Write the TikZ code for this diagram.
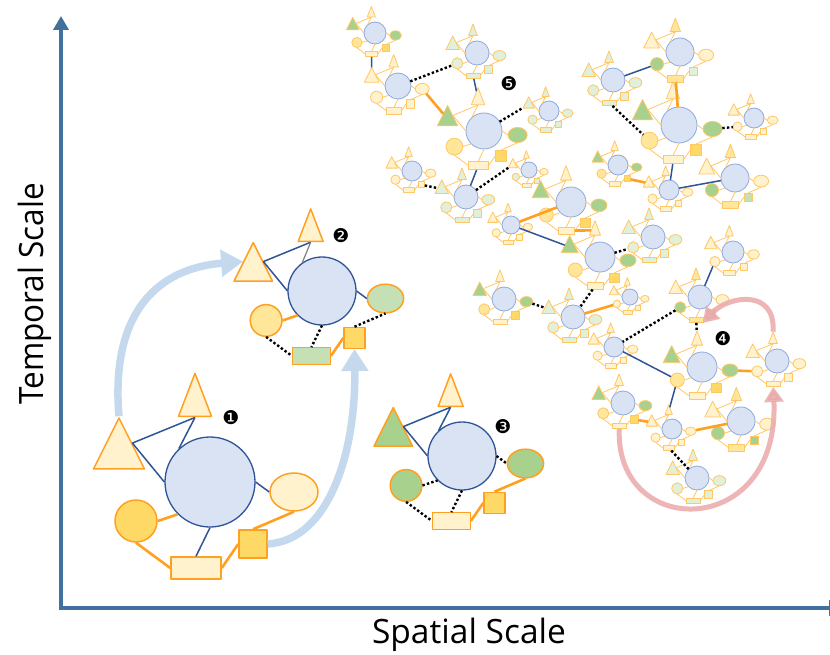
\documentclass[tikz,border=0pt]{standalone}
\usepackage{fontspec}
\setmainfont{Open Sans}
\newfontfamily\dingfont{DejaVu Sans}
\usetikzlibrary{shapes.geometric,arrows.meta}

\definecolor{cblue}{HTML}{DAE3F3}
\definecolor{dblue}{HTML}{2F5597}
\definecolor{lblue}{HTML}{8FAADC}
\definecolor{orng}{HTML}{FFA020}
\definecolor{lorng}{HTML}{FFC766}
\definecolor{cY}{HTML}{FFF2CC}
\definecolor{cG}{HTML}{FFD966}
\definecolor{cGl}{HTML}{FFE699}
\definecolor{cN}{HTML}{A9D18E}
\definecolor{cL}{HTML}{C5E0B4}
\definecolor{cLL}{HTML}{E2F0D9}
\definecolor{axblue}{HTML}{41719C}
\definecolor{arrblue}{HTML}{C5D9EE}
\definecolor{arrpink}{HTML}{EBA9A9}

\tikzset{
  cline/.style={draw=dblue}, oline/.style={draw=orng},
  big/.style={cline/.style={draw=dblue,line width=1.3pt},oline/.style={draw=orng,line width=1.5pt}},
  net/.style={cline/.style={draw=lblue,line width=0.8pt},oline/.style={draw=lorng,line width=0.8pt}},
  bigc/.style={circle,cline,fill=cblue,inner sep=0pt,minimum size=90pt},
  tri/.style={regular polygon,regular polygon sides=3,oline,inner sep=0pt},
  ocirc/.style={circle,oline,inner sep=0pt,minimum size=42pt},
  oell/.style={ellipse,oline,inner sep=0pt,minimum width=48pt,minimum height=38pt},
  orect/.style={rectangle,oline,inner sep=0pt},
  blu/.style={draw=dblue,line width=1.5pt},
  org/.style={draw=orng,line width=2.6pt},
  dotl/.style={draw=black,line width=2.4pt,dash pattern=on 2.4pt off 2.2pt,line cap=butt},
  ilink/.style={draw=lorng,line width=0.8pt},
  axis/.style={draw=axblue,line width=4pt,line cap=rect,-{Triangle[length=14pt,width=15pt]}},
  lbarr/.style={draw=arrblue,line width=7.5pt,-{Triangle[length=22pt,width=26pt]}},
  pkarr/.style={draw=arrpink,line width=5pt,-{Triangle[length=15pt,width=19pt]}},
  badge/.style={font=\dingfont\fontsize{19}{19}\selectfont,inner sep=0pt},
  axlab/.style={font=\fontsize{33.5}{34}\selectfont,inner sep=0pt,anchor=base}
}

% one motif: name, x, y (pixels, downward), radius of its circle, colours T/S/L/E/R/Q
\newcommand{\motif}[6][net]{%
  \begin{scope}[shift={(#3,-#4)},scale=#5/45,transform shape,#1]
    \motifparts{#2}#6\relax
  \end{scope}}
\def\motifparts#1#2/#3/#4/#5/#6/#7\relax{%
  \node[bigc] (#1c) at (0,0) {};
  \begin{scope}[shift={(-91,30)}]\node[tri,fill=#2,minimum size=58.9pt,yscale=1.154] (#1t) at (0,0) {};\end{scope}
  \begin{scope}[shift={(-15,80)}]\node[tri,fill=#3,minimum size=38.1pt,yscale=1.504] (#1s) at (0,0) {};\end{scope}
  \node[ocirc,fill=#4] (#1l) at (-74,-39) {};
  \node[oell,fill=#5] (#1e) at (84,-10) {};
  \node[orect,fill=#6,minimum width=50pt,minimum height=22pt] (#1r) at (-14,-86) {};
  \node[orect,fill=#7,minimum size=28pt] (#1q) at (43,-62) {};}
\newcommand{\netlinks}[1]{%
  \draw[ilink] (#1t.side 3) -- (#1s.side 2) (#1t.side 3) -- (#1c.180) (#1s.side 2) -- (#1c.133)
    (#1l.east) -- (#1c.225) (#1l.south) -- (#1r.west) (#1c.south) -- (#1r.north)
    (#1r.east) -- (#1q.west) (#1q.north) -- (#1e.south) (#1c.east) -- (#1e.west);}

\begin{document}
\begin{tikzpicture}[x=1pt,y=1pt,line join=round]
\useasboundingbox (0,0) rectangle (830,-655);
\fill[white] (0,0) rectangle (830,-655);

% axes
\coordinate (o) at (61,-608);
\coordinate (ytop) at (61,-16);
\coordinate (xend) at (843,-608);
\draw[axis] (o) -- (ytop);
\draw[axis] (o) -- (xend);
\node[axlab] (xlab) at (469,-643) {Spatial Scale};
\node[axlab,rotate=90,xscale=0.94] (ylab) at (43,-294) {Temporal Scale};

% three single motifs
\motif[big]{c1}{210}{482}{45}{cY/cY/cG/cY/cY/cG}
\draw[blu] (c1t.side 3) -- (c1s.side 2) (c1t.side 3) -- (c1c.180) (c1s.side 2) -- (c1c.133)
  (c1c.south) -- (c1r.north) (c1c.east) -- (c1e.west);
\draw[org] (c1l.east) -- (c1c.225) (c1l.south) -- (c1r.west) (c1r.east) -- (c1q.west) (c1q.north) -- (c1e.south);
\node[badge] (b1) at (231,-418) {❶};

\motif[big]{c2}{322}{291}{34}{cY/cY/cGl/cL/cL/cG}
\draw[blu] (c2t.side 3) -- (c2s.side 2) (c2t.side 3) -- (c2c.180) (c2c.east) -- (c2e.west);
\draw[gray,line width=1.2pt] (c2s.side 2) -- (c2c.125);
\draw[org] (c2l.east) -- (c2c.225) (c2r.east) -- (c2q.west);
\draw[dotl] (c2l.south) -- (c2r.west) (c2c.south) -- (c2r.north) (c2q.north) -- (c2e.south);
\node[badge] (b2) at (341,-236) {❷};

\motif[big]{c3}{462}{456}{34}{cN/cY/cN/cN/cY/cG}
\draw[blu] (c3t.side 3) -- (c3s.side 2) (c3t.side 3) -- (c3c.180) (c3s.side 2) -- (c3c.133);
\draw[org] (c3r.east) -- (c3q.west) (c3q.north) -- (c3e.south);
\draw[dotl] (c3l.east) -- (c3c.225) (c3l.south) -- (c3r.west) (c3c.south) -- (c3r.north) (c3c.east) -- (c3e.west);
\node[badge] (b3) at (503,-427) {❸};

% arrows from motif 1 to motif 2
\draw[lbarr] (c1t.corner 1) .. controls (110,-310) and (160,-268) .. (c2t.side 1);
\draw[lbarr] (c1q.east) .. controls (330,-540) and (356,-450) .. (c2q.south);

% network of motifs
\foreach \n/\x/\y/\rad/\kt/\ks/\kl/\ke/\kr/\kq in {
  A/375/33/11/cN/cY/cGl/cN/cY/cG, B/477/53/12/cLL/cLL/cLL/cLL/cLL/cLL,
  C/398/86/13/cY/cY/cY/cY/cY/cY, D/484/131/18/cN/cY/cGl/cN/cY/cG,
  E/549/111/10/cLL/cLL/cLL/cLL/cLL/cLL, F/412/171/10/cY/cY/cY/cY/cY/cY,
  G/466/197/12/cLL/cLL/cLL/cLL/cLL/cLL, H/529/170/8/cY/cY/cLL/cY/cY/cLL,
  I/680/52/14/cY/cGl/cN/cY/cGl/cLL, J/613/80/12/cLL/cLL/cLL/cLL/cLL/cLL,
  K/679/125/18/cN/cY/cGl/cN/cY/cG, L/754/118/10/cY/cY/cY/cY/cY/cY,
  M/618/165/10/cN/cY/cGl/cN/cY/cG, N/669/190/10/cY/cY/cY/cY/cY/cY,
  O/735/178/14/cY/cGl/cN/cY/cGl/cL, Q/571/202/15/cN/cY/cGl/cN/cY/cG,
  R/511/225/9/cY/cY/cY/cY/cY/cY, S/600/257/15/cN/cY/cGl/cN/cY/cG,
  T/653/237/12/cLL/cLL/cLL/cLL/cLL/cLL, U/504/299/12/cN/cY/cGl/cN/cY/cG,
  V/573/317/12/cLL/cLL/cLL/cLL/cLL/cLL, W/630/297/8/cY/cY/cY/cY/cY/cY,
  X/700/297/12/cY/cGl/cN/cY/cGl/cL, Z/733/252/11/cY/cY/cY/cY/cY/cY,
  AA/614/347/10/cY/cY/cY/cY/cY/cY, AB/702/367/15/cN/cY/cGl/cN/cY/cG,
  AC/777/361/12/cY/cY/cY/cY/cY/cY, AD/623/403/12/cN/cY/cGl/cN/cY/cG,
  AE/672/429/10/cY/cY/cY/cY/cY/cY, AF/741/421/14/cY/cGl/cN/cY/cGl/cN,
  AG/697/478/12/cLL/cLL/cLL/cLL/cLL/cLL}
  {\motif{n\n}{\x}{\y}{\rad}{\kt/\ks/\kl/\ke/\kr/\kq}\netlinks{n\n}}

\draw[blu] (nAr) -- (nCt) (nBr) -- (nDs) (nDr) -- (nGc) (nJc) -- (nIl) (nKr) -- (nNc)
  (nNc) -- (nOc) (nRc) -- (nSt) (nZl) -- (nXc) (nAAc) -- (nABl) (nABl) -- (nAEs);
\draw[org] (nCe) -- (nDt) (nIr) -- (nKc) (nMq) -- (nNt) (nRc) -- (nQc) (nQr) -- (nSs)
  (nVc) -- (nWl) (nABe) -- (nACl) (nADq) -- (nAEt) (nAEe) -- (nAFc);
\draw[dotl] (nCc) -- (nBl) (nDc) -- (nEt) (nFq) -- (nGt) (nGc) -- (nHt) (nJr) -- (nKl)
  (nKe) -- (nLl) (nSc) -- (nTl) (nSr) -- (nVc) (nUe) -- (nVt) (nXl) -- (nAAc)
  (nXr) -- (nABs) (nAEr) -- (nAGc);
\node[badge] (b4) at (723,-339) {❹};
\node[badge] (b5) at (509,-84) {❺};

% cycle arrows round motif 4
\draw[pkarr,opacity=0.85] (nACs.corner 1) .. controls (776,-288) and (728,-296) .. (nXr.south east);
\draw[pkarr,opacity=0.85] (nADr.south) .. controls (615,-540) and (780,-540) .. (nACr.south);
\end{tikzpicture}
\end{document}
